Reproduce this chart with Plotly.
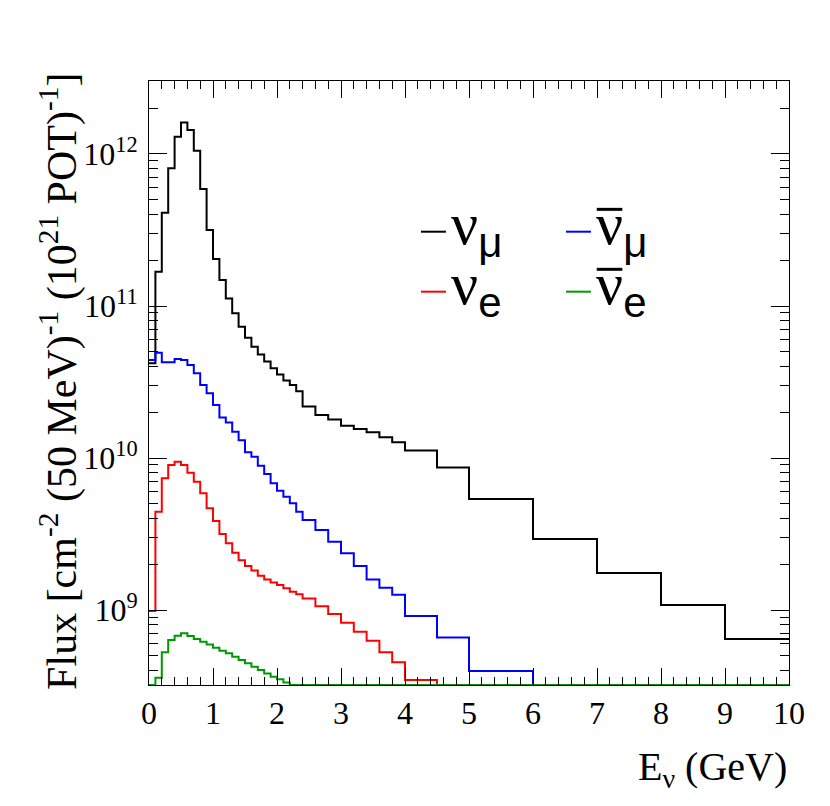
import plotly.graph_objects as go

# bin edges in GeV (variable binning)
bin_edges = [0.0, 0.1, 0.2, 0.3, 0.4, 0.5, 0.6, 0.7, 0.8, 0.9, 1.0, 1.1, 1.2,
             1.3, 1.4, 1.5, 1.6, 1.7, 1.8, 1.9, 2.0, 2.1, 2.2, 2.3, 2.4,
             2.6, 2.8, 3.0, 3.2, 3.4, 3.6, 3.8, 4.0, 4.5, 5.0, 6.0, 7.0,
             8.0, 9.0, 10.0]

# flux per bin, cm^-2 (50 MeV)^-1 (1e21 POT)^-1 ; 0 = below the axis
flux_numu = [4.2e10, 1.68e11, 4.11e11, 8.05e11, 1.30e12, 1.61e12, 1.44e12,
             1.05e12, 5.89e11, 3.16e11, 2.04e11, 1.48e11, 1.12e11, 8.95e10,
             7.31e10, 6.19e10, 5.40e10, 4.79e10, 4.32e10, 3.89e10, 3.55e10,
             3.24e10, 3.02e10, 2.75e10,
             2.18e10, 1.92e10, 1.79e10, 1.63e10, 1.55e10, 1.48e10, 1.37e10,
             1.27e10, 1.12e10, 8.67e9, 5.37e9, 2.93e9, 1.75e9, 1.08e9, 6.44e8]
flux_numubar = [4.42e10, 4.93e10, 4.27e10, 4.27e10, 4.48e10, 4.42e10, 4.09e10,
                3.61e10, 3.02e10, 2.67e10, 2.23e10, 1.85e10, 1.71e10, 1.49e10,
                1.31e10, 1.09e10, 1.02e10, 8.89e9, 7.85e9, 6.82e9, 6.10e9,
                5.56e9, 5.04e9, 4.44e9,
                3.91e9, 3.36e9, 2.81e9, 2.36e9, 1.95e9, 1.59e9, 1.40e9,
                1.26e9, 9.14e8, 6.61e8, 3.97e8, 0, 0, 0, 0]
flux_nue = [9.84e8, 4.44e9, 7.35e9, 8.99e9, 9.46e9, 8.99e9, 8.00e9, 6.98e9,
            5.86e9, 4.67e9, 3.85e9, 3.16e9, 2.75e9, 2.38e9, 2.13e9, 1.95e9,
            1.82e9, 1.68e9, 1.59e9, 1.52e9, 1.46e9, 1.39e9, 1.32e9, 1.27e9,
            1.19e9, 1.06e9, 9.42e8, 8.26e8, 7.19e8, 6.28e8, 5.27e8, 4.53e8,
            3.46e8, 0, 0, 0, 0, 0, 0]
flux_nuebar = [0, 3.59e8, 5.27e8, 6.35e8, 6.78e8, 7.03e8, 6.75e8, 6.44e8,
               6.18e8, 5.94e8, 5.65e8, 5.40e8, 5.19e8, 4.93e8, 4.69e8, 4.46e8,
               4.24e8, 4.03e8, 3.83e8, 3.64e8, 3.50e8, 3.34e8, 0, 0,
               0, 0, 0, 0, 0, 0, 0, 0, 0, 0, 0, 0, 0, 0, 0]

Y_RANGE = [8.507, 12.48]  # log10
floor = 10 ** Y_RANGE[0]

series = [
    (flux_numu, "black"),
    (flux_numubar, "#0000ff"),
    (flux_nue, "#ff0000"),
    (flux_nuebar, "#009900"),
]

serif = "Liberation Serif, Times New Roman, serif"
sans = "Liberation Sans, Arial, sans-serif"

fig = go.Figure()
for vals, col in series:
    # empty bins are drawn on the lower frame edge, like ROOT does
    ys = [v if v > floor else floor for v in vals]
    fig.add_trace(go.Scatter(
        x=bin_edges, y=ys + [ys[-1]],
        mode="lines", line=dict(color=col, width=2, shape="hv"),
        showlegend=False, hoverinfo="skip",
    ))

decades = [1e9, 1e10, 1e11, 1e12]
minor_y = [k * 10 ** n for n in range(8, 13) for k in range(2, 10)]

fig.update_layout(
    width=830, height=806,
    margin=dict(l=149, r=41, t=81, b=121),
    plot_bgcolor="white", paper_bgcolor="white",
    font=dict(family=serif, color="black"),
    xaxis=dict(
        range=[0, 10], showgrid=False, zeroline=False,
        showline=True, linecolor="black", linewidth=1, mirror="allticks",
        ticks="inside", ticklen=17, tickwidth=1, tickcolor="black",
        tick0=0, dtick=1,
        minor=dict(dtick=0.2, tick0=0, ticks="inside", ticklen=8,
                   tickcolor="black", tickwidth=1, showgrid=False),
        tickfont=dict(family=serif, size=32, color="black"),
    ),
    yaxis=dict(
        type="log", range=Y_RANGE, showgrid=False, zeroline=False,
        showline=True, linecolor="black", linewidth=1, mirror="allticks",
        ticks="inside", ticklen=18, tickwidth=1, tickcolor="black",
        tickmode="array", tickvals=decades,
        ticktext=["10<sup>9</sup>", "10<sup>10</sup>", "10<sup>11</sup>",
                  "10<sup>12</sup>"],
        ticklabelstandoff=4,
        minor=dict(tickmode="array", tickvals=minor_y, ticks="inside",
                   ticklen=9, tickcolor="black", tickwidth=1, showgrid=False),
        tickfont=dict(family=serif, size=32, color="black"),
    ),
)

# axis titles (ROOT style placement)
fig.add_annotation(
    text="Flux [cm<sup>-2</sup> (50 MeV)<sup>-1</sup> (10<sup>21</sup> POT)<sup>-1</sup>]",
    xref="paper", yref="paper", x=-0.14, y=0.5025, textangle=-90,
    showarrow=False, xanchor="center", yanchor="middle",
    font=dict(family=serif, size=42, color="black"),
)
fig.add_annotation(
    text="E<sub>ν</sub> (GeV)",
    xref="paper", yref="paper", x=1.0, y=-0.139,
    showarrow=False, xanchor="right", yanchor="middle",
    font=dict(family=serif, size=40, color="black"),
)

# legend, two columns
legend_items = [
    ("ν", "μ", False, "black", 0.425, 0.7505),
    ("ν", "μ", True, "#0000ff", 0.6516, 0.7505),
    ("ν", "e", False, "#ff0000", 0.425, 0.6512),
    ("ν", "e", True, "#009900", 0.6516, 0.6512),
]
for sym, sub, bar, col, lx, ly in legend_items:
    fig.add_shape(type="line", xref="paper", yref="paper",
                  x0=lx, x1=lx + 0.039, y0=ly, y1=ly,
                  line=dict(color=col, width=2))
    fig.add_annotation(
        text=f"{sym}<sub><span style='font-family:{sans}'>{sub}</span></sub>",
        xref="paper", yref="paper", x=lx + 0.043, y=ly + 0.005,
        showarrow=False, xanchor="left", yanchor="middle",
        font=dict(family=serif, size=60, color="black"),
    )
    if bar:
        # the bar over the anti-neutrino symbol
        fig.add_shape(type="line", xref="paper", yref="paper",
                      x0=lx + 0.048, x1=lx + 0.088, y0=ly + 0.037,
                      y1=ly + 0.037, line=dict(color="black", width=3))

fig.write_html("out.html", config={"displayModeBar": False},
               post_script="document.body.style.margin='0';")
